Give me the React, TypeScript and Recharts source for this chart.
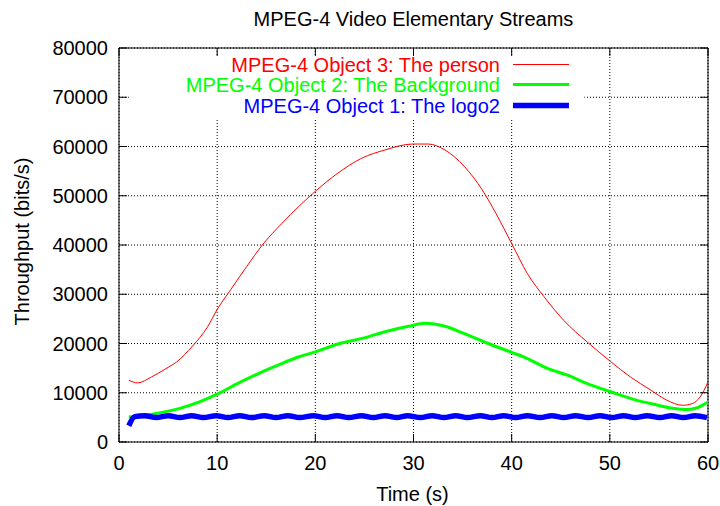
import React from "react";
import {
  CartesianGrid,
  Legend,
  Line,
  LineChart,
  ReferenceArea,
  ReferenceLine,
  XAxis,
  YAxis,
} from "recharts";

const FONT = "'Liberation Sans', Arial, Helvetica, sans-serif";
const C_RED = "#ff0000";
const C_GREEN = "#00ff00";
const C_BLUE = "#0000ff";

const X_TICKS = [0, 10, 20, 30, 40, 50, 60];
const Y_TICKS = [0, 10000, 20000, 30000, 40000, 50000, 60000, 70000, 80000];

// Object 3: the person
const RED_T = [1, 1.9, 3.3, 4.7, 5.9, 7.5, 9, 10, 11.4, 13, 14.6, 16.6, 20, 22.3, 24.7, 27.1, 29.9, 31.5, 33.2, 35.2, 37, 38.4, 40, 41.6, 43.3, 45.3, 47.7, 50.1, 52.1, 54.2, 55.8, 57.4, 58.4, 59.2, 60];
const RED_V = [12540, 12000, 13200, 14800, 16300, 19500, 23300, 26900, 31000, 35600, 40000, 44400, 50900, 54600, 57600, 59300, 60500, 60500, 59300, 55900, 51200, 46400, 40300, 34200, 29500, 24700, 20300, 16300, 13200, 10500, 8500, 7460, 7800, 9150, 12200];

// Object 2: the background
const GREEN_T = [1, 3.7, 6.1, 8.2, 10, 12.2, 14.2, 16.2, 18.2, 20, 22.3, 25.1, 27.1, 29.5, 31.2, 33.2, 35.2, 37.6, 40, 41.6, 43.7, 45.7, 47.7, 50.1, 52.5, 54.6, 56.6, 57.8, 58.8, 60];
const GREEN_V = [5090, 5760, 6780, 8140, 9700, 12000, 13900, 15600, 17200, 18300, 19900, 21200, 22400, 23500, 24100, 23500, 22000, 20000, 18200, 16950, 14900, 13560, 11860, 10200, 8600, 7600, 6780, 6580, 6900, 8140];

// Object 1: the logo2 (small wobble around ~5.1 kbit/s)
const BLUE_T = [1, 1.6, 2.6, 3.8, 5.0, 6.2, 7.4, 8.6, 9.9, 11.1, 12.3, 13.5, 14.8, 16.0, 17.2, 18.4, 19.8, 21.0, 22.2, 23.4, 24.7, 25.9, 27.1, 28.3, 29.4, 30.7, 31.9, 33.1, 34.3, 35.5, 36.8, 38.0, 39.2, 40.4, 41.6, 42.9, 44.1, 45.3, 46.5, 47.8, 49.0, 50.2, 51.4, 52.6, 53.8, 55.1, 56.3, 57.5, 58.7, 59.9];
const BLUE_V = [3300, 5150, 5350, 4950, 5350, 4950, 5350, 4950, 5350, 4950, 5350, 4950, 5350, 4950, 5350, 4950, 5350, 4950, 5350, 4950, 5350, 4950, 5350, 4950, 5350, 4950, 5350, 4950, 5350, 4950, 5350, 4950, 5350, 4950, 5350, 4950, 5350, 4950, 5350, 4950, 5350, 4950, 5350, 4950, 5350, 4950, 5350, 4950, 5350, 4950];

const zip = (t: number[], v: number[]) => t.map((x, i) => ({ t: x, v: v[i] }));

const SERIES = [
  { name: "MPEG-4 Object 3: The person", color: C_RED, width: 1, data: zip(RED_T, RED_V) },
  { name: "MPEG-4 Object 2: The Background", color: C_GREEN, width: 3, data: zip(GREEN_T, GREEN_V) },
  { name: "MPEG-4 Object 1: The logo2", color: C_BLUE, width: 5.5, data: zip(BLUE_T, BLUE_V) },
];

const PLOT = { left: 119, top: 48, right: 708, bottom: 442 };
const TICK = 8;

function XTick({ x, payload }: any) {
  return (
    <g>
      <line x1={x} x2={x} y1={PLOT.bottom} y2={PLOT.bottom - TICK} stroke="#000" />
      <line x1={x} x2={x} y1={PLOT.top} y2={PLOT.top + TICK} stroke="#000" />
      <text x={x} y={PLOT.bottom + 27.5} textAnchor="middle" fontFamily={FONT} fontSize={20} fill="#000">
        {payload.value}
      </text>
    </g>
  );
}

function YTick({ y, payload }: any) {
  return (
    <g>
      <line x1={PLOT.left} x2={PLOT.left + TICK} y1={y} y2={y} stroke="#000" />
      <line x1={PLOT.right} x2={PLOT.right - TICK} y1={y} y2={y} stroke="#000" />
      <text x={PLOT.left - 11} y={y + 7} textAnchor="end" fontFamily={FONT} fontSize={20} fill="#000">
        {payload.value}
      </text>
    </g>
  );
}

function KeyContent() {
  const rows = [64.5, 84.5, 105.5];
  return (
    <svg width={720} height={120}>
      {SERIES.map((s, i) => (
        <g key={s.name}>
          <text x={500} y={rows[i] + 7.5} textAnchor="end" fontFamily={FONT} fontSize={20} fill={s.color}>
            {s.name}
          </text>
          <line x1={513} x2={569} y1={rows[i]} y2={rows[i]} stroke={s.color} strokeWidth={s.width} />
        </g>
      ))}
    </svg>
  );
}

export default function App() {
  return (
    <div style={{ position: "absolute", left: 0, top: 0, width: 720, height: 506, background: "#fff" }}>
      <LineChart width={720} height={506} margin={{ top: 48, right: 12, bottom: 0, left: 0 }}>
        <CartesianGrid stroke="#000" strokeDasharray="1 2" strokeWidth={1} />
        <XAxis
          dataKey="t"
          type="number"
          domain={[0, 60]}
          ticks={X_TICKS}
          allowDataOverflow
          height={64}
          tickLine={false}
          tickSize={0}
          stroke="#000"
          tick={(p: any) => <XTick {...p} />}
        />
        <YAxis
          type="number"
          domain={[0, 80000]}
          ticks={Y_TICKS}
          allowDataOverflow
          width={119}
          tickLine={false}
          tickSize={0}
          stroke="#000"
          tick={(p: any) => <YTick {...p} />}
        />
        <ReferenceLine y={80000} stroke="#000" strokeWidth={1} />
        <ReferenceLine x={60} stroke="#000" strokeWidth={1} />
        <ReferenceArea x1={1} x2={47.4} y1={65800} y2={78400} fill="#fff" fillOpacity={1} stroke="none" />
        {SERIES.map((s) => (
          <Line
            key={s.name}
            data={s.data}
            dataKey="v"
            name={s.name}
            type="monotone"
            stroke={s.color}
            strokeWidth={s.width}
            dot={false}
            activeDot={false}
            isAnimationActive={false}
          />
        ))}
        <Legend
          layout="vertical"
          align="center"
          verticalAlign="middle"
          content={() => <KeyContent />}
          wrapperStyle={{ position: "absolute", left: 0, top: 0, width: 720, height: 120 }}
        />
      </LineChart>
      <svg
        width={720}
        height={506}
        style={{ position: "absolute", left: 0, top: 0, pointerEvents: "none" }}
      >
        <text x={413.5} y={26} textAnchor="middle" fontFamily={FONT} fontSize={20} fill="#000">
          MPEG-4 Video Elementary Streams
        </text>
        <text x={412.5} y={501} textAnchor="middle" fontFamily={FONT} fontSize={20} fill="#000">
          Time (s)
        </text>
        <text
          x={0}
          y={0}
          transform="translate(28.5,241.5) rotate(-90)"
          textAnchor="middle"
          fontFamily={FONT}
          fontSize={20}
          fill="#000"
        >
          Throughput (bits/s)
        </text>
      </svg>
    </div>
  );
}
